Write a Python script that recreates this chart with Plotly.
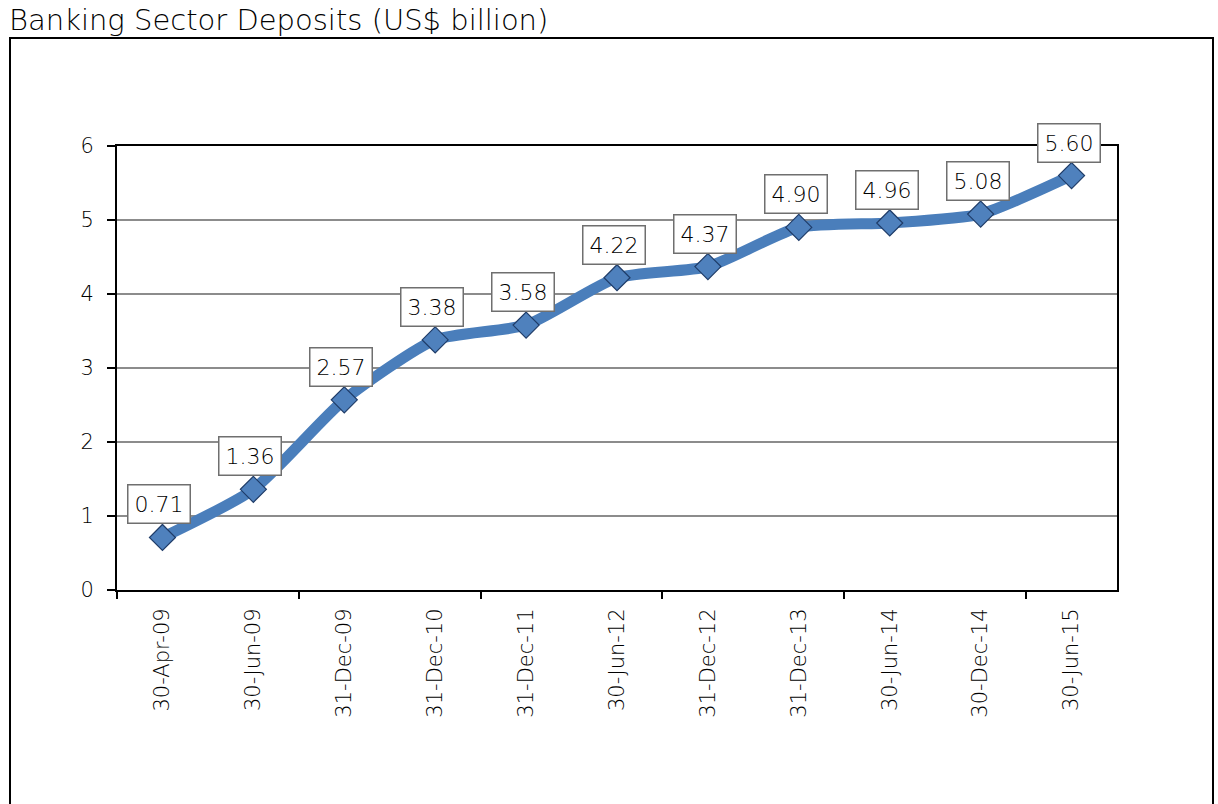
import plotly.graph_objects as go

# Banking sector deposits, US$ billion
dates = ["30-Apr-09", "30-Jun-09", "31-Dec-09", "31-Dec-10", "31-Dec-11",
         "30-Jun-12", "31-Dec-12", "31-Dec-13", "30-Jun-14", "30-Dec-14", "30-Jun-15"]
deposits = [0.71, 1.36, 2.57, 3.38, 3.58, 4.22, 4.37, 4.90, 4.96, 5.08, 5.60]

W, H = 1218, 804
L, R, T, B = 117, 1117, 146, 590  # plot area in pixels

FONT = "DejaVu Sans ExtraLight, DejaVu Sans"
TXT = "#000000"
idx = list(range(len(dates)))

fig = go.Figure()
fig.add_trace(go.Scatter(
    x=idx, y=deposits, mode="lines+markers",
    line=dict(color="#4A7EBB", width=11, shape="spline", smoothing=0.6),
    marker=dict(symbol="diamond", size=20, color="#4F81BD",
                line=dict(color="#1F3C68", width=1.2)),
    hoverinfo="skip", showlegend=False,
))

# value labels in white boxes above each point
for i, v in zip(idx, deposits):
    fig.add_annotation(
        x=i, y=v, text=f"{v:.2f}", showarrow=False,
        xanchor="center", yanchor="bottom", yshift=13, xshift=-3,
        font=dict(family=FONT, size=22, color=TXT, weight=200),
        bgcolor="white", bordercolor="#6f6f6f", borderwidth=1.5, borderpad=6,
    )

def px_x(p):
    return (p - L) / (R - L)

def px_y(p):
    return (B - p) / (B - T)

# outer chart frame
fig.add_shape(type="rect", xref="paper", yref="paper",
              x0=px_x(10), x1=px_x(1213), y0=px_y(830), y1=px_y(38),
              line=dict(color="black", width=2), fillcolor="rgba(0,0,0,0)",
              layer="below")

fig.update_layout(
    width=W, height=H,
    margin=dict(l=L, r=W - R, t=T, b=H - B),
    paper_bgcolor="white", plot_bgcolor="white",
    title=dict(text="Banking Sector Deposits (US$ billion)",
               xref="container", yref="container", x=9 / W, y=1 - 20 / H,
               xanchor="left", yanchor="middle",
               font=dict(family=FONT, size=29, color=TXT, weight=200)),
    xaxis=dict(
        range=[-0.5, len(dates) - 0.5], tickvals=idx, ticktext=dates,
        tickangle=-90, ticks="", showgrid=False, zeroline=False,
        showline=True, linecolor="black", linewidth=2, mirror=True,
        tickfont=dict(family=FONT, size=21, color=TXT, weight=200),
        ticklabelstandoff=8,
    ),
    xaxis2=dict(
        overlaying="x", range=[-0.5, len(dates) - 0.5],
        tickvals=[-0.5, 1.5, 3.5, 5.5, 7.5, 9.5], showticklabels=False,
        ticks="outside", ticklen=8, tickwidth=2, tickcolor="black",
        showgrid=False, zeroline=False, side="bottom",
    ),
    yaxis=dict(
        range=[0, 6], dtick=1, ticks="outside", ticklen=8, tickwidth=2,
        tickcolor="black", showgrid=True, gridcolor="#8c8c8c", gridwidth=1.5,
        zeroline=False, showline=True, linecolor="black", linewidth=2,
        mirror=True, tickfont=dict(family=FONT, size=21, color=TXT, weight=200),
        ticklabelstandoff=9,
    ),
)

# invisible trace to activate the tick-mark axis
fig.add_trace(go.Scatter(x=[None], y=[None], xaxis="x2", showlegend=False,
                         hoverinfo="skip"))

fig.write_html("out.html")
